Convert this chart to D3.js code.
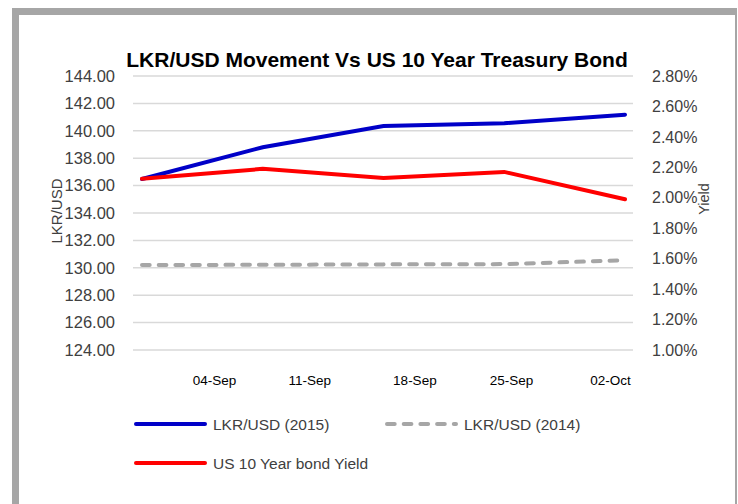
<!DOCTYPE html>
<html>
<head>
<meta charset="utf-8">
<script src="https://cdn.jsdelivr.net/npm/d3@7"></script>
<style>
  body { margin: 0; background: #fff; }
  text { font-family: "Liberation Sans", Arial, sans-serif; fill: #404040; }
</style>
</head>
<body>
<div id="chart"></div>
<script>
// data
let points = [0, 1, 2, 3, 4];
let lkr2015 = [136.48, 138.8, 140.35, 140.55, 141.18];
let lkr2014 = [130.2, 130.22, 130.25, 130.27, 130.55];
let bondYield = [2.125, 2.19, 2.13, 2.17, 1.99];   // percent
let xTickLabels = ["04-Sep", "11-Sep", "18-Sep", "25-Sep", "02-Oct"];
let xTickAt = [0.6, 1.39, 2.26, 3.06, 3.88];
let leftTicks = [124, 126, 128, 130, 132, 134, 136, 138, 140, 142, 144];
let rightTicks = [1.0, 1.2, 1.4, 1.6, 1.8, 2.0, 2.2, 2.4, 2.6, 2.8];

let width = 738, height = 504;
let plot = { left: 133, right: 633, top: 76, bottom: 350 };

let svg = d3.select("#chart")
    .append("svg")
    .attr("width", width)
    .attr("height", height);

// frame like the screenshot
svg.append("rect").attr("x", 12).attr("y", 8).attr("width", 725).attr("height", 496).attr("fill", "#a6a6a6");
svg.append("rect").attr("x", 19).attr("y", 15).attr("width", 716).attr("height", 489).attr("fill", "#fff");

let x = d3.scaleLinear().domain([0, 4]).range([142, 625]);
let yL = d3.scaleLinear().domain([124, 144]).range([plot.bottom, plot.top]);
let yR = d3.scaleLinear().domain([1.0, 2.8]).range([plot.bottom, plot.top]);

// gridlines
svg.append("g")
    .selectAll("line")
    .data(leftTicks)
    .enter()
    .append("line")
    .attr("x1", plot.left)
    .attr("x2", plot.right)
    .attr("y1", d => yL(d))
    .attr("y2", d => yL(d))
    .attr("stroke", "#d9d9d9")
    .attr("stroke-width", 1.5);

// left axis
let leftAxis = svg.append("g")
    .attr("transform", `translate(${plot.left}, 0)`)
    .call(d3.axisLeft(yL).tickValues(leftTicks).tickFormat(d3.format(".2f")).tickSize(0).tickPadding(18));
leftAxis.select(".domain").remove();
leftAxis.selectAll("text").style("font-size", "16.5px").style("fill", "#404040")
    .style("font-family", "Liberation Sans, Arial, sans-serif");

// right axis
let rightAxis = svg.append("g")
    .attr("transform", `translate(${plot.right}, 0)`)
    .call(d3.axisRight(yR).tickValues(rightTicks).tickFormat(d => d.toFixed(2) + "%").tickSize(0).tickPadding(19));
rightAxis.select(".domain").remove();
rightAxis.selectAll("text").style("font-size", "16px").style("fill", "#404040")
    .style("font-family", "Liberation Sans, Arial, sans-serif");

// x labels
svg.append("g")
    .selectAll("text")
    .data(xTickLabels)
    .enter()
    .append("text")
    .attr("x", (d, i) => x(xTickAt[i]))
    .attr("y", 385)
    .style("text-anchor", "middle")
    .style("font-size", "13.5px")
    .style("fill", "#000")
    .text(d => d);

// axis titles
svg.append("text")
    .attr("transform", "translate(62, 211) rotate(-90)")
    .style("text-anchor", "middle")
    .style("font-size", "15px")
    .text("LKR/USD");

svg.append("text")
    .attr("transform", "translate(709, 199) rotate(-90)")
    .style("text-anchor", "middle")
    .style("font-size", "14.5px")
    .text("Yield");

// title
svg.append("text")
    .attr("x", 377)
    .attr("y", 67)
    .style("text-anchor", "middle")
    .style("font-size", "21px")
    .style("font-weight", "bold")
    .style("fill", "#000")
    .text("LKR/USD Movement Vs US 10 Year Treasury Bond");

// lines
let lineL = d3.line().x((d, i) => x(points[i])).y(d => yL(d));
let lineR = d3.line().x((d, i) => x(points[i])).y(d => yR(d));

svg.append("path")
    .datum(lkr2014)
    .attr("d", lineL)
    .attr("fill", "none")
    .attr("stroke", "#a6a6a6")
    .attr("stroke-width", 4)
    .attr("stroke-linecap", "round")
    .attr("stroke-dasharray", "7.7,9");

svg.append("path")
    .datum(lkr2015)
    .attr("d", lineL)
    .attr("fill", "none")
    .attr("stroke", "#0000c8")
    .attr("stroke-width", 4)
    .attr("stroke-linecap", "round");

svg.append("path")
    .datum(bondYield)
    .attr("d", lineR)
    .attr("fill", "none")
    .attr("stroke", "#ff0000")
    .attr("stroke-width", 4)
    .attr("stroke-linecap", "round");

// legend
let legendItems = [
    { name: "LKR/USD (2015)", color: "#0000c8", dash: null, x: 136, y: 424 },
    { name: "LKR/USD (2014)", color: "#a6a6a6", dash: "7.7,9", x: 387, y: 424 },
    { name: "US 10 Year bond Yield", color: "#ff0000", dash: null, x: 136, y: 463 }
];

let legend = svg.append("g").selectAll("g").data(legendItems).enter().append("g");
legend.append("line")
    .attr("x1", d => d.x)
    .attr("x2", d => d.x + 69)
    .attr("y1", d => d.y)
    .attr("y2", d => d.y)
    .attr("stroke", d => d.color)
    .attr("stroke-width", 4)
    .attr("stroke-linecap", "round")
    .attr("stroke-dasharray", d => d.dash);
legend.append("text")
    .attr("x", d => d.x + 77)
    .attr("y", d => d.y + 6)
    .style("font-size", "15.5px")
    .text(d => d.name);
</script>
</body>
</html>
